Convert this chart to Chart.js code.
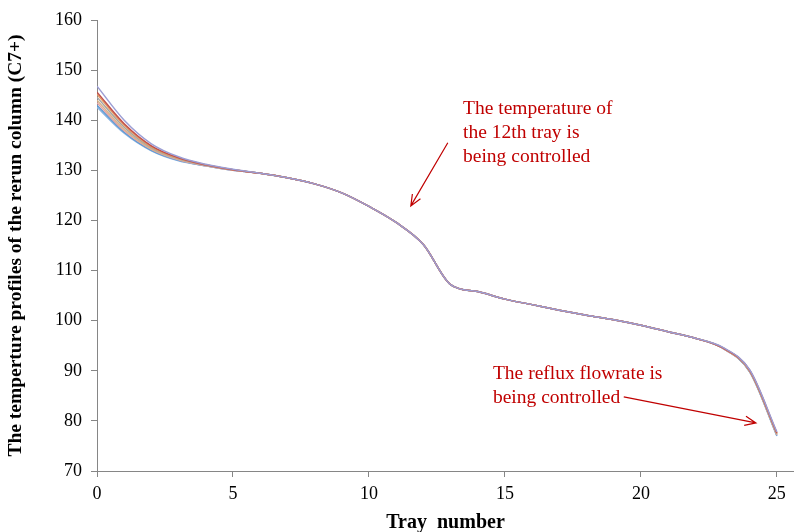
<!DOCTYPE html>
<html lang="en">
<head>
    <meta charset="UTF-8">
    <title>Temperature profiles</title>
    <script src="https://cdn.jsdelivr.net/npm/chart.js"></script>
    <style>
        html, body { margin: 0; padding: 0; background: #fff; }
        #wrap { width: 794px; height: 532px; }
    </style>
</head>
<body>
    <div id="wrap"><canvas id="myChart" width="794" height="532"></canvas></div>
    <script>
        const trays = [0,1,2,3,4,5,6,7,8,9,10,11,12,13,14,15,16,17,18,19,20,21,22,23,24,25];

        const case1 = [146.8,140.0,135.3,132.7,131.2,130.2,129.4,128.5,127.3,125.5,122.8,119.6,115.2,107.2,105.8,104.3,103.2,102.1,101.1,100.2,99.1,97.8,96.5,94.7,90.2,77.8];
        const case2 = [145.6,139.3,134.9,132.5,131.1,130.1,129.4,128.5,127.3,125.5,122.8,119.6,115.2,107.2,105.8,104.3,103.2,102.1,101.1,100.2,99.1,97.8,96.5,94.6,90.1,77.6];
        const case3 = [145.2,139.0,134.7,132.4,131.1,130.1,129.4,128.5,127.3,125.5,122.8,119.6,115.2,107.2,105.8,104.3,103.2,102.1,101.1,100.2,99.1,97.8,96.5,94.6,90.0,77.5];
        const case4 = [144.6,138.6,134.5,132.3,131.0,130.1,129.4,128.5,127.3,125.5,122.8,119.6,115.2,107.2,105.8,104.3,103.2,102.1,101.1,100.2,99.1,97.8,96.5,94.6,90.0,77.4];
        const case5 = [144.0,138.2,134.3,132.2,131.0,130.1,129.4,128.5,127.3,125.5,122.8,119.6,115.2,107.2,105.8,104.3,103.2,102.1,101.1,100.2,99.1,97.8,96.5,94.6,89.9,77.3];
        const case6 = [143.5,137.9,134.2,132.1,130.9,130.0,129.4,128.5,127.3,125.5,122.8,119.6,115.2,107.2,105.8,104.3,103.2,102.1,101.1,100.2,99.1,97.8,96.5,94.5,89.9,77.2];
        const case7 = [143.0,137.6,134.0,132.0,130.9,130.0,129.4,128.5,127.3,125.5,122.8,119.6,115.2,107.2,105.8,104.3,103.2,102.1,101.1,100.2,99.1,97.8,96.5,94.5,89.8,77.1];
        const case8 = [142.6,137.4,133.9,131.9,130.9,130.0,129.4,128.5,127.3,125.5,122.8,119.6,115.2,107.2,105.8,104.3,103.2,102.1,101.1,100.2,99.1,97.8,96.5,94.5,89.8,77.0];

        const seriesList = [case1, case2, case3, case4, case5, case6, case7, case8];
        const colors = ['#9c9ed4', '#c0504d', '#e59a5f', '#a5a5a5', '#d8b48a', '#e6a4a4', '#5b9bd5', '#8db4e2'];

        const yTicks = [70, 80, 90, 100, 110, 120, 130, 140, 150, 160];
        const xTicks = [0, 5, 10, 15, 20, 25];

        // annotation text and arrows, in data units
        const note1 = ['The temperature of', 'the 12th tray is', 'being controlled'];
        const note1At = { x: 13.46, y: 142.3 };
        const arrow1 = { x1: 12.9, y1: 135.5, x2: 11.54, y2: 122.9 };
        const note2 = ['The reflux flowrate is', 'being controlled'];
        const note2At = { x: 14.56, y: 89.4 };
        const arrow2 = { x1: 19.37, y1: 84.8, x2: 24.23, y2: 79.6 };

        const serif = '"Liberation Serif", "Times New Roman", serif';
        const red = '#c00000';

        const notesPlugin = {
            id: 'notes',
            afterDatasetsDraw(chart) {
                const c = chart.ctx;
                const xs = chart.scales.x, ys = chart.scales.y;
                c.save();
                c.fillStyle = red;
                c.strokeStyle = red;
                c.lineWidth = 1.2;
                c.font = '19.5px ' + serif;
                c.textBaseline = 'middle';
                c.textAlign = 'left';
                note1.forEach((t, i) => c.fillText(t, xs.getPixelForValue(note1At.x), ys.getPixelForValue(note1At.y) + i * 24));
                note2.forEach((t, i) => c.fillText(t, xs.getPixelForValue(note2At.x), ys.getPixelForValue(note2At.y) + i * 24));
                [arrow1, arrow2].forEach(a => {
                    const x1 = xs.getPixelForValue(a.x1), y1 = ys.getPixelForValue(a.y1);
                    const x2 = xs.getPixelForValue(a.x2), y2 = ys.getPixelForValue(a.y2);
                    const ang = Math.atan2(y2 - y1, x2 - x1);
                    c.beginPath();
                    c.moveTo(x1, y1);
                    c.lineTo(x2, y2);
                    c.moveTo(x2 - 12 * Math.cos(ang - 0.4), y2 - 12 * Math.sin(ang - 0.4));
                    c.lineTo(x2, y2);
                    c.lineTo(x2 - 12 * Math.cos(ang + 0.4), y2 - 12 * Math.sin(ang + 0.4));
                    c.stroke();
                });
                c.restore();
            }
        };

        const datasets = seriesList.map((s, i) => ({
            label: 'Case ' + (i + 1),
            data: trays.map((t, j) => ({ x: t, y: s[j] })),
            borderColor: colors[i],
            borderWidth: 1.5,
            pointRadius: 0,
            fill: false,
            cubicInterpolationMode: 'monotone'
        }));

        const ctx = document.getElementById('myChart').getContext('2d');
        const myChart = new Chart(ctx, {
            type: 'line',
            data: { datasets: datasets },
            plugins: [notesPlugin],
            options: {
                responsive: false,
                animation: false,
                layout: { padding: { top: 20, right: 0, left: 0, bottom: 0 } },
                plugins: { legend: { display: false }, tooltip: { enabled: false } },
                scales: {
                    x: {
                        type: 'linear',
                        min: 0,
                        max: 25.63,
                        afterBuildTicks: s => { s.ticks = xTicks.map(v => ({ value: v })); },
                        afterFit: s => { s.height = 61; },
                        grid: { display: true, drawOnChartArea: false, drawTicks: true, tickLength: 6, tickColor: '#868686' },
                        border: { color: '#868686' },
                        ticks: { color: '#000', font: { family: serif, size: 18 }, padding: 6, maxRotation: 0 },
                        title: { display: true, text: 'Tray  number', color: '#000', font: { family: serif, size: 20, weight: 'bold' }, padding: { top: 0, bottom: -3 } }
                    },
                    y: {
                        min: 70,
                        max: 160,
                        afterBuildTicks: s => { s.ticks = yTicks.map(v => ({ value: v })); },
                        afterFit: s => { s.width = 97; },
                        grid: { display: true, drawOnChartArea: false, drawTicks: true, tickLength: 6, tickColor: '#868686' },
                        border: { color: '#868686' },
                        ticks: { color: '#000', font: { family: serif, size: 18 }, padding: 9 },
                        title: { display: true, text: 'The temperture profiles of the rerun column (C7+)', color: '#000', font: { family: serif, size: 19.5, weight: 'bold' }, padding: { bottom: 0 } }
                    }
                }
            }
        });
    </script>
</body>
</html>
